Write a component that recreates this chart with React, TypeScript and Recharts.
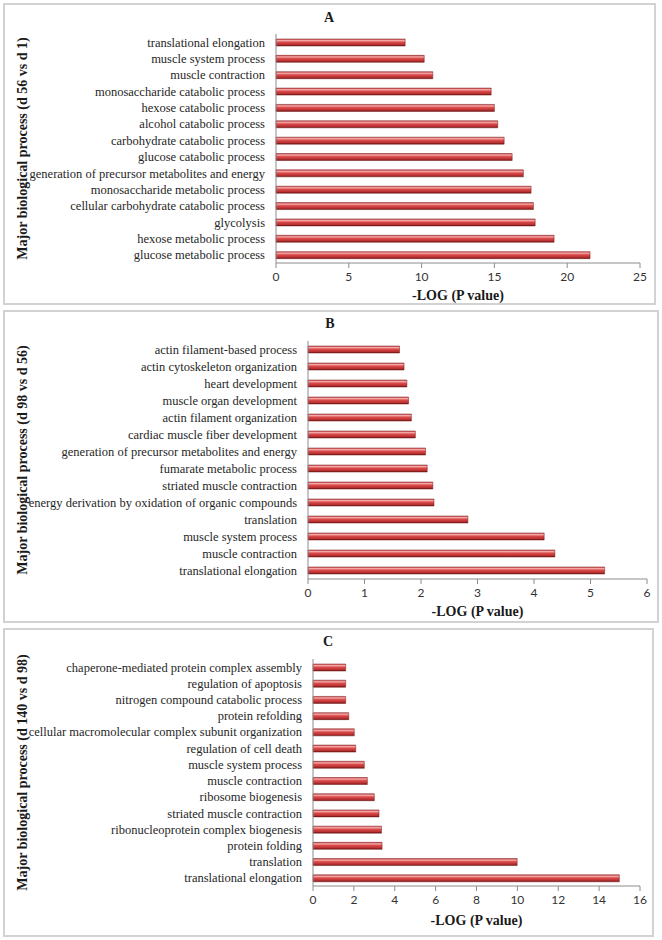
import { BarChart, Bar, XAxis, YAxis } from 'recharts';

// top-to-bottom order, as drawn
const processesA = [
  'translational elongation',
  'muscle system process',
  'muscle contraction',
  'monosaccharide catabolic process',
  'hexose catabolic process',
  'alcohol catabolic process',
  'carbohydrate catabolic process',
  'glucose catabolic process',
  'generation of precursor metabolites and energy',
  'monosaccharide metabolic process',
  'cellular carbohydrate catabolic process',
  'glycolysis',
  'hexose metabolic process',
  'glucose metabolic process',
];
const logPA = [8.87, 10.18, 10.77, 14.78, 15.0, 15.23, 15.67, 16.22, 16.99, 17.52, 17.68, 17.8, 19.1, 21.57];
const ticksA = [0, 5, 10, 15, 20, 25];

const processesB = [
  'actin filament-based process',
  'actin cytoskeleton organization',
  'heart development',
  'muscle organ development',
  'actin filament organization',
  'cardiac muscle fiber development',
  'generation of precursor metabolites and energy',
  'fumarate metabolic process',
  'striated muscle contraction',
  'energy derivation by oxidation of organic compounds',
  'translation',
  'muscle system process',
  'muscle contraction',
  'translational elongation',
];
const logPB = [1.62, 1.7, 1.75, 1.78, 1.83, 1.9, 2.08, 2.11, 2.21, 2.23, 2.83, 4.18, 4.37, 5.25];
const ticksB = [0, 1, 2, 3, 4, 5, 6];

const processesC = [
  'chaperone-mediated protein complex assembly',
  'regulation of apoptosis',
  'nitrogen compound catabolic process',
  'protein refolding',
  'cellular macromolecular complex subunit organization',
  'regulation of cell death',
  'muscle system process',
  'muscle contraction',
  'ribosome biogenesis',
  'striated muscle contraction',
  'ribonucleoprotein complex biogenesis',
  'protein folding',
  'translation',
  'translational elongation',
];
const logPC = [1.6, 1.6, 1.6, 1.75, 2.02, 2.09, 2.51, 2.66, 3.0, 3.23, 3.35, 3.38, 9.99, 14.99];
const ticksC = [0, 2, 4, 6, 8, 10, 12, 14, 16];

const SERIF = '"Liberation Serif", "Times New Roman", serif';
const AXIS = '#8c8c8c';

type Box = { left: number; top: number; right: number; bottom: number };
type Plot = { left: number; right: number; top: number; bottom: number };

type PanelProps = {
  letter: string;
  ylabel: string;
  names: string[];
  values: number[];
  ticks: number[];
  box: Box;
  plot: Plot;
  titleX: number;
  titleY: number;
  xTitleY: number;
};

// plain one-line tick, the default one wraps long names
const CategoryTick = (props: any) => {
  const { x, y, payload } = props;
  return (
    <text x={x} y={y} dy={4.5} textAnchor="end" fontFamily={SERIF} fontSize={12.5} fill="#262626">
      {payload.value}
    </text>
  );
};

const Panel = ({ letter, ylabel, names, values, ticks, box, plot, titleX, titleY, xTitleY }: PanelProps) => {
  const data = names.map((name, i) => ({ name, value: values[i] }));
  const h = box.bottom - box.top;
  const axisH = box.bottom - plot.bottom;
  const gid = `bar3d${letter}`;
  return (
    <div style={{ position: 'absolute', left: 0, top: box.top, width: 662, height: h }}>
      <div
        style={{
          position: 'absolute',
          left: box.left,
          top: 0,
          width: box.right - box.left,
          height: h,
          border: '2px solid #d2d2d2',
          boxSizing: 'border-box',
        }}
      />
      <div
        style={{
          position: 'absolute',
          left: titleX - 20,
          width: 40,
          top: titleY - box.top - 9,
          textAlign: 'center',
          fontFamily: SERIF,
          fontWeight: 'bold',
          fontSize: 14,
          lineHeight: '18px',
          color: '#1a1a1a',
        }}
      >
        {letter}
      </div>
      <BarChart
        width={662}
        height={h}
        data={data}
        layout="vertical"
        margin={{ top: plot.top - box.top, right: 662 - plot.right, bottom: 0, left: 0 }}
        style={{ position: 'absolute', left: 0, top: 0 }}
      >
        <defs>
          <linearGradient id={gid} x1="0" y1="0" x2="0" y2="1">
            <stop offset="0%" stopColor="#c9484a" />
            <stop offset="22%" stopColor="#f4a9a9" />
            <stop offset="45%" stopColor="#dc4b4b" />
            <stop offset="80%" stopColor="#b83030" />
            <stop offset="100%" stopColor="#6a1414" />
          </linearGradient>
        </defs>
        <XAxis
          type="number"
          domain={[ticks[0], ticks[ticks.length - 1]]}
          ticks={ticks}
          interval={0}
          height={axisH}
          axisLine={{ stroke: AXIS }}
          tickLine={{ stroke: AXIS }}
          tickSize={5}
          tickMargin={4}
          tick={{ fontFamily: 'Lato, "Open Sans", sans-serif', fontSize: 12, fill: '#333' }}
          label={{
            value: '-LOG (P value)',
            position: 'insideBottom',
            offset: box.bottom - (xTitleY + 4.5),
            style: { fontFamily: SERIF, fontWeight: 'bold', fontSize: 14, fill: '#1a1a1a' },
          }}
        />
        <YAxis
          type="category"
          dataKey="name"
          width={plot.left}
          interval={0}
          axisLine={{ stroke: AXIS }}
          tickLine={false}
          tickSize={0}
          tickMargin={11}
          tick={<CategoryTick />}
          label={{
            value: ylabel,
            angle: -90,
            position: 'insideLeft',
            offset: 22,
            style: { textAnchor: 'middle', fontFamily: SERIF, fontWeight: 'bold', fontSize: 14, fill: '#1a1a1a' },
          }}
        />
        <Bar
          dataKey="value"
          barSize={7}
          fill={`url(#${gid})`}
          stroke="#7a1818"
          strokeWidth={0.5}
          isAnimationActive={false}
        />
      </BarChart>
    </div>
  );
};

export default function App() {
  return (
    <div style={{ position: 'absolute', left: 0, top: 0, width: 662, height: 940, background: '#fff' }}>
      <Panel
        letter="A"
        ylabel="Major biological process (d 56 vs d 1)"
        names={processesA}
        values={logPA}
        ticks={ticksA}
        box={{ left: 3, top: 3, right: 656, bottom: 305 }}
        plot={{ left: 276, right: 640, top: 34, bottom: 263 }}
        titleX={329}
        titleY={18}
        xTitleY={295}
      />
      <Panel
        letter="B"
        ylabel="Major biological process (d 98 vs d 56)"
        names={processesB}
        values={logPB}
        ticks={ticksB}
        box={{ left: 3, top: 310, right: 659, bottom: 623 }}
        plot={{ left: 308, right: 647, top: 341, bottom: 579 }}
        titleX={330}
        titleY={324}
        xTitleY={611}
      />
      <Panel
        letter="C"
        ylabel="Major biological process (d 140 vs d 98)"
        names={processesC}
        values={logPC}
        ticks={ticksC}
        box={{ left: 3, top: 628, right: 654, bottom: 937 }}
        plot={{ left: 313, right: 640, top: 659, bottom: 886 }}
        titleX={328}
        titleY={642}
        xTitleY={920}
      />
    </div>
  );
}
